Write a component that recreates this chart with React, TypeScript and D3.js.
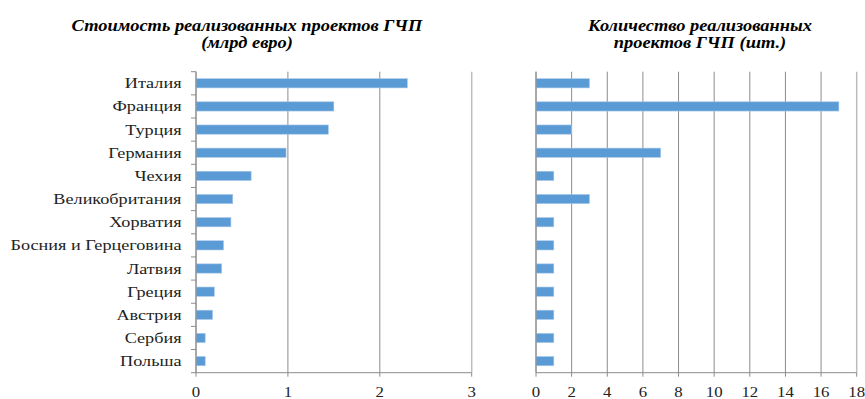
import React from "react";
import * as d3 from "d3";

const countries = [
  "Италия", "Франция", "Турция", "Германия", "Чехия", "Великобритания",
  "Хорватия", "Босния и Герцеговина", "Латвия", "Греция", "Австрия", "Сербия", "Польша",
];
const costValues = [2.3, 1.5, 1.44, 0.98, 0.6, 0.4, 0.38, 0.3, 0.28, 0.2, 0.18, 0.1, 0.1];
const countValues = [3, 17, 2, 7, 1, 3, 1, 1, 1, 1, 1, 1, 1];
const costTicks = [0, 1, 2, 3];
const countTicks = [0, 2, 4, 6, 8, 10, 12, 14, 16, 18];
const titleLeft = ["Стоимость реализованных проектов ГЧП", "(млрд евро)"];
const titleRight = ["Количество реализованных", "проектов ГЧП (шт.)"];

const W = 865, H = 399;
const top = 71.7, bottom = 372.7;
const font = "'Liberation Serif', 'Times New Roman', serif";
const barColor = "#5b9bd5";

function SText({ x, y, sx, children, ...rest }: any) {
  return (
    <text transform={`translate(${x},${y}) scale(${sx},1)`} fontFamily={font} {...rest}>{children}</text>
  );
}

function Panel({ values, ticks, x0, x1, showLabels, title, titleX }: any) {
  const x = d3.scaleLinear().domain([ticks[0], ticks[ticks.length - 1]]).range([x0, x1]);
  const y = d3.scaleBand<string>().domain(countries).range([top, bottom]).paddingInner(0.6).paddingOuter(0.3);
  const boundaries = d3.range(countries.length + 1).map((i) => top + (i * (bottom - top)) / countries.length);
  return (
    <g>
      {title.map((t: string, i: number) => (
        <SText key={i} x={titleX} y={31 + i * 17} sx={1.15} textAnchor="middle"
          fontWeight="bold" fontStyle="italic" fontSize={16} fill="#000">{t}</SText>
      ))}
      {ticks.map((t: number, i: number) => (
        <line key={"g" + t} x1={x(t)} x2={x(t)} y1={top} y2={bottom}
          stroke={i === ticks.length - 1 ? "#bdbdbd" : "#8c8c8c"} strokeWidth={i === ticks.length - 1 ? 1.5 : 1} />
      ))}
      {values.map((v: number, i: number) => (
        <rect key={countries[i]} x={x(0)} y={y(countries[i])} width={x(v) - x(0)} height={y.bandwidth()}
          fill={barColor} stroke="#a9c8ea" strokeWidth={0.6} />
      ))}
      <line x1={x(0)} x2={x(0)} y1={top} y2={bottom} stroke="#8c8c8c" strokeWidth={1} />
      <line x1={x0} x2={x1} y1={bottom} y2={bottom} stroke="#8c8c8c" strokeWidth={1} />
      {showLabels && boundaries.map((b, i) => (
        <line key={"yt" + i} x1={x(0) - 5} x2={x(0)} y1={b} y2={b} stroke="#8c8c8c" />
      ))}
      {ticks.map((t: number) => (
        <g key={"t" + t}>
          <line x1={x(t)} x2={x(t)} y1={bottom} y2={bottom + 4} stroke="#8c8c8c" />
          <SText x={x(t)} y={bottom + 24} sx={1.2} textAnchor="middle" fontSize={14} fill="#222">{t}</SText>
        </g>
      ))}
      {showLabels && countries.map((c) => (
        <SText key={"l" + c} x={x(0) - 14.5} y={(y(c) as number) + y.bandwidth() / 2 + 5} sx={1.3}
          textAnchor="end" fontSize={14} fill="#222">{c}</SText>
      ))}
    </g>
  );
}

export default function App() {
  return (
    <svg width={W} height={H} style={{ position: "absolute", left: 0, top: 0, background: "#fff" }}>
      <rect width={W} height={H} fill="#fff" />
      <Panel values={costValues} ticks={costTicks} x0={196} x1={471.7} showLabels title={titleLeft} titleX={247} />
      <Panel values={countValues} ticks={countTicks} x0={536} x1={856.7} showLabels={false} title={titleRight} titleX={700} />
    </svg>
  );
}
